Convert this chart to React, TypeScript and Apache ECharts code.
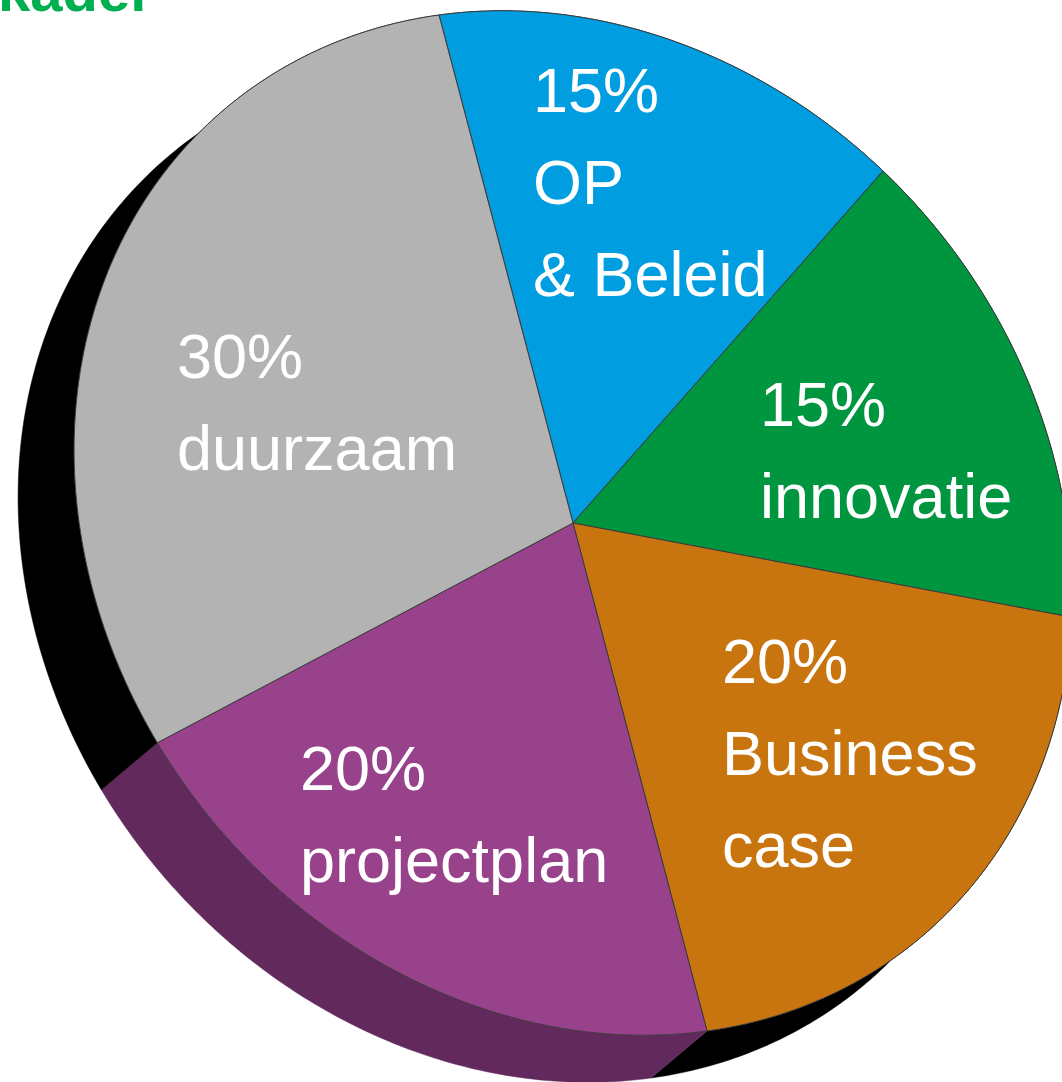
import React, { useEffect, useRef } from 'react';
import * as echarts from 'echarts';

// ---- data ----
const categories = ['OP\n& Beleid', 'innovatie', 'Business\ncase', 'projectplan', 'duurzaam'];
const shares = [15, 15, 20, 20, 30];
const titleText = 'kader';

// ---- styles / layout ----
const topColors = ['#009EE0', '#00953F', '#C87510', '#98428C', '#B3B3B3'];
const sideColors = ['#000000', '#000000', '#000000', '#62295C', '#000000'];
// label layout: left x, baseline of first line
const labelAnchors = [
  [533, 112],
  [760, 426],
  [722, 683],
  [300, 790],
  [177, 378],
];

// projected (tilted) pie geometry
const CX = 573;
const CY = 523;
const E1 = [-134, -508];
const E2 = [480.6, -66];
const DEPTH = [-56, 47];
const FONT_SIZE = 63;
const LINE_H = 92;

function pt(phi: number, shifted: boolean): number[] {
  return [
    CX + Math.cos(phi) * E1[0] + Math.sin(phi) * E2[0] + (shifted ? DEPTH[0] : 0),
    CY + Math.cos(phi) * E1[1] + Math.sin(phi) * E2[1] + (shifted ? DEPTH[1] : 0),
  ];
}

function sliceAngles(i: number, values: number[]) {
  const total = values.reduce((a, b) => a + b, 0);
  let before = 0;
  for (let k = 0; k < i; k++) before += values[k];
  const start = (before / total) * Math.PI * 2;
  const end = ((before + values[i]) / total) * Math.PI * 2;
  return [start, end];
}

export default function App() {
  const ref = useRef<HTMLDivElement>(null);
  useEffect(() => {
    if (!ref.current) return;
    const chart = echarts.init(ref.current, undefined, { renderer: 'svg' });
    const N = 120;
    const seriesData = shares.map((v, i) => ({ name: categories[i], value: v }));
    chart.setOption({
      animation: false,
      backgroundColor: '#ffffff',
      graphic: [
        {
          type: 'text',
          x: -2,
          y: -10,
          z: 100,
          style: {
            text: titleText,
            fontSize: 58,
            fontWeight: 'bold',
            fontFamily: '"Liberation Sans", Arial, sans-serif',
            fill: '#00B050',
            verticalAlign: 'middle',
          },
        },
      ],
      series: [
        {
          type: 'custom',
          coordinateSystem: 'none',
          z: 1,
          silent: true,
          data: seriesData,
          renderItem: (params: any) => {
            const i = params.dataIndex;
            const [s, e] = sliceAngles(i, shares);
            const top: number[][] = [];
            const bot: number[][] = [];
            for (let k = 0; k <= N; k++) {
              const phi = s + ((e - s) * k) / N;
              top.push(pt(phi, false));
              bot.push(pt(phi, true));
            }
            const pts = top.concat(bot.reverse());
            return {
              type: 'polygon',
              shape: { points: pts },
              style: { fill: sideColors[i], stroke: sideColors[i], lineWidth: 0.5 },
            };
          },
        },
        {
          type: 'custom',
          coordinateSystem: 'none',
          z: 2,
          silent: true,
          data: seriesData,
          renderItem: (params: any, api: any) => {
            const i = params.dataIndex;
            const [s, e] = sliceAngles(i, shares);
            const pts: number[][] = [[CX, CY]];
            for (let k = 0; k <= N; k++) {
              pts.push(pt(s + ((e - s) * k) / N, false));
            }
            const val = api.value(0);
            const [lx, lb] = labelAnchors[i];
            return {
              type: 'group',
              children: [
                {
                  type: 'polygon',
                  shape: { points: pts },
                  style: { fill: topColors[i], stroke: '#3a3a3a', lineWidth: 1 },
                },
                {
                  type: 'text',
                  x: lx,
                  y: lb - 68,
                  style: {
                    text: `${val}%\n${categories[i]}`,
                    fill: '#ffffff',
                    fontSize: FONT_SIZE,
                    fontFamily: '"Liberation Sans", Arial, sans-serif',
                    lineHeight: LINE_H,
                    align: 'left',
                    verticalAlign: 'top',
                  },
                },
              ],
            };
          },
        },
      ],
    });
    return () => chart.dispose();
  }, []);
  return (
    <div
      ref={ref}
      style={{ position: 'absolute', left: 0, top: 0, width: 1062, height: 1082 }}
    />
  );
}
